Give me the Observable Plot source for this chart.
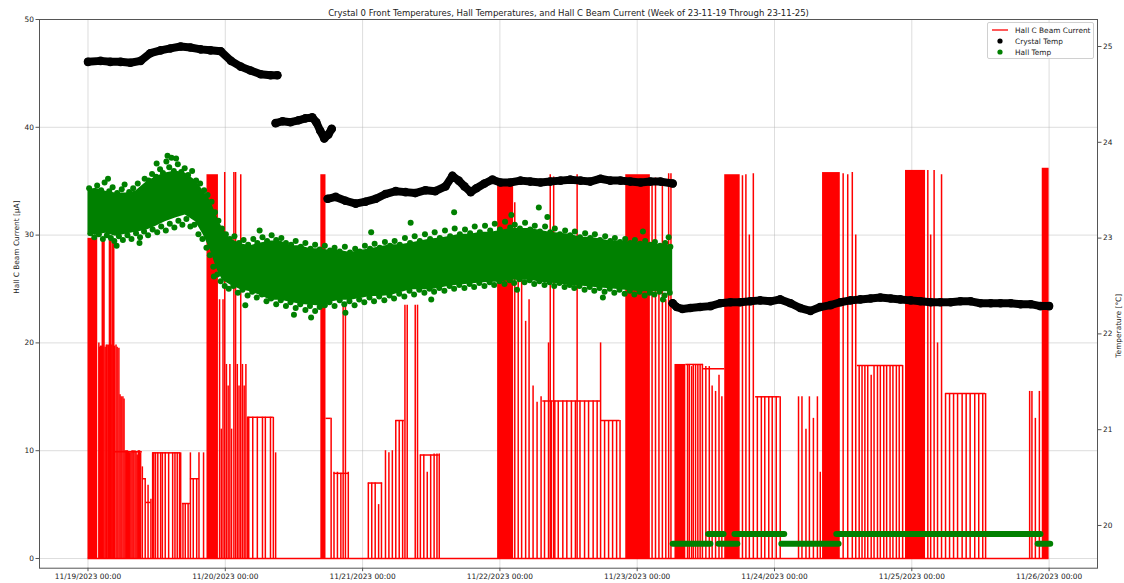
<!DOCTYPE html>
<html><head><meta charset="utf-8">
<script src="https://cdn.jsdelivr.net/npm/d3@7"></script>
<script src="https://cdn.jsdelivr.net/npm/@observablehq/plot@0.6"></script>
<style>
body{margin:0;background:#fff;font-family:"DejaVu Sans",sans-serif;}
#wrap{position:relative;width:1124px;height:583px;}
#legend{position:absolute;left:987px;top:22px;width:107px;height:37px;border:1px solid #d0d0d0;border-radius:2px;background:rgba(255,255,255,0.85);font-size:7.4px;color:#222;box-sizing:border-box;}
#legend .row{position:absolute;left:0;height:10px;display:flex;align-items:center;}
#legend .h{width:24px;display:flex;justify-content:center;align-items:center;}
</style></head><body><div id="wrap"></div>
<script>
const START = Date.UTC(2023, 10, 19);
const title = "Crystal 0 Front Temperatures, Hall Temperatures, and Hall C Beam Current (Week of 23-11-19 Through 23-11-25)";
const dayTicks = [0, 1, 2, 3, 4, 5, 6, 7];
const leftTicks = [0, 10, 20, 30, 40, 50];
const rightTicks = [20, 21, 22, 23, 24, 25];
const leftDomain = [-0.9, 50];
const rightDomain = [19.554, 25.282];

// Hall C beam current (µA), hours after 11/19 00:00
const beamBlocks = [ // [start h, end h, top] dense toggling
  [0.0,1.7,29.7],[20.8,22.8,35.6],[40.7,41.6,35.6],[71.6,74.4,35.1],[94.0,98.3,35.6],
  [102.6,104.5,18.0],[111.3,114.0,35.6],[128.4,131.5,35.8],[142.9,146.4,36.0],[166.8,168.0,36.2]
];
const beamPlateaus = [ // [start h, end h, level]
  [0,168,0],[4.5,9.5,9.9],[9.5,10.2,7.4],[10.2,11.0,5.2],[11.3,16.2,9.8],[16.5,17.9,5.1],[17.9,19.5,7.4],
  [27.9,32.4,13.1],[41.6,42.5,13.0],[43.0,45.7,7.9],[49.0,51.5,7.0],[53.8,55.3,12.8],[58.1,61.4,9.6],
  [79.5,89.6,14.6],[89.6,93.0,12.8],[104.5,107.6,18.0],[107.6,111.3,17.6],[116.7,121.0,15.0],[134.5,142.5,17.9],[149.9,156.9,15.3]
];
const beamSpikes = [ // [h, top]
  [1.9,20],[2.0,19.6],[2.2,19.7],[2.35,19.7],[2.5,29.7],[2.65,29.7],[2.8,29.7],[3.0,19.6],[3.2,19.8],[3.35,19.8],[3.6,19.8],
  [3.75,29.5],[3.9,29.5],[4.05,19.8],[4.2,29.5],[4.35,29.4],[4.5,29.3],[4.65,19.7],[4.9,19.8],[5.1,19.6],[5.4,19.5],
  [5.6,15.2],[5.8,15],[6.1,15],[6.3,14.8],[6.5,10],[6.7,10],[6.9,10],[7.1,9.9],[7.3,9.8],[7.5,9.8],[7.7,10],[7.9,10],
  [8.2,10],[8.4,9.9],[8.6,9.6],[8.8,10],[9.0,10],[9.2,9.8],[9.5,8.5],[10.0,7.4],[10.5,6.8],[11.0,5.5],
  [11.3,9.8],[11.5,9.8],[11.8,9.8],[12.2,9.8],[12.7,9.8],[13.0,9.8],[13.5,9.8],[14.1,9.8],[14.8,9.8],[15.2,9.8],[15.6,9.8],
  [16.0,9.8],[16.2,9.8],[16.6,5.1],[17.0,5.1],[17.5,5.1],[17.9,9.8],[18.4,7.4],[19.0,7.4],[19.4,9.8],[20.2,9.8],
  [23.0,24],[23.3,12],[23.6,24],[23.9,35.8],[24.2,18],[24.5,16],[24.8,18],[25.1,12],[25.5,35.8],[25.8,35.8],[26.1,18],
  [26.4,16],[26.7,35.6],[27.0,18],[27.3,16],[27.6,18],[27.9,13.1],
  [28.1,13.1],[28.8,13.1],[29.6,13.1],[30.5,13.1],[31.0,13.1],[31.9,13.1],[32.4,13.1],[32.8,9.8],
  [42.5,13],[43.0,8],[43.6,8],[44.2,7.9],[44.6,23.5],[45.0,23.4],[45.5,8],
  [49.0,7],[49.6,7],[50.2,7],[50.8,5],[51.3,7],[52.0,10],[52.6,9.8],[53.2,10],[53.8,12.8],[54.4,12.8],[55.0,12.8],
  [55.4,23.5],[55.8,23.5],[57.2,23.5],[57.6,23.5],[58.1,9.6],[58.7,9.6],[59.3,8],[59.9,9.6],[60.5,9.7],[61.0,9.7],[61.4,9.7],
  [74.6,33],[75.2,30],[75.8,29],[76.5,22],[77.1,24],[77.8,16],[78.5,14.5],[79.2,15],[79.8,14.6],[80.5,20],[80.8,35.6],[81.0,14.6],
  [81.4,35.4],[81.6,14.6],[82.2,14.6],[83.0,14.6],[83.7,14.6],[84.5,14.6],[85.2,14.6],[85.5,35.6],[86.0,14.6],[86.8,14.6],[87.5,14.6],[88.3,14.6],
  [89.0,14.6],[89.6,20],[90.3,12.8],[91.0,12.8],[91.7,12.8],[92.4,12.8],[93.0,12.8],
  [98.6,35],[99.2,35.3],[99.8,25],[100.4,35.2],[101.0,24],[101.5,35.7],[101.9,35.7],
  [104.8,18],[105.1,18],[105.5,17.8],[105.8,18],[106.2,18],[106.6,17.9],[107.0,18],[107.4,18],
  [108.0,17.8],[108.6,17.8],[109.1,16],[109.7,15.5],[110.3,17],[110.8,15],
  [114.4,35.5],[115.0,35.6],[115.6,30],[116.3,35.7],[117.0,15],[117.7,15],[118.3,15],[119.0,15],[119.6,15],[120.3,15],[121.0,15],
  [124.2,15],[124.8,15],[125.5,12],[126.1,15],[126.8,13],[127.5,15],[128.0,8],
  [132.0,35.7],[132.8,35.6],[133.6,35.8],[134.2,30],[134.8,17.9],[135.3,17.9],[135.8,17.9],[136.3,17.9],[136.9,17],
  [137.4,17.9],[138.0,17.9],[138.5,17.9],[139.1,17.9],[139.6,17.9],[140.2,17.9],[140.7,17.9],[141.3,17.9],[141.8,17.9],[142.4,17.9],
  [146.8,36],[147.3,30],[147.9,36],[148.5,20],[149.2,35.6],[149.9,15.3],[150.6,15.3],[151.3,15.3],[152.0,15.3],[152.8,15.3],
  [153.5,15.3],[154.2,15.3],[155.0,15.3],[155.7,15.3],[156.4,15.3],[156.9,15.3],
  [164.6,15.5],[165.0,15.5],[165.6,13],[166.3,15.5]
];

// Crystal temperature (°C), four runs
const crystalA = [[0,24.84],[2.2,24.85],[3.9,24.84],[5.7,24.84],[7.4,24.83],[9.2,24.85],[10.9,24.93],[12.7,24.96],[14.4,24.98],[16.2,25.00],[17.9,24.99],[19.7,24.97],[21.4,24.96],[23.2,24.95],[25.0,24.85],[26.7,24.79],[28.4,24.75],[30.2,24.71],[31.9,24.70],[33.1,24.70]];
const crystalB = [[32.8,24.20],[34.0,24.22],[35.4,24.21],[36.8,24.23],[38.0,24.25],[39.2,24.26],[39.9,24.21],[40.6,24.12],[41.3,24.04],[42.0,24.08],[42.6,24.14]];
const crystalC = [[41.9,23.41],[43.3,23.43],[45.0,23.39],[46.8,23.36],[48.5,23.38],[50.3,23.41],[52.0,23.46],[53.8,23.49],[55.5,23.48],[57.2,23.47],[59.0,23.50],[60.7,23.49],[62.5,23.54],[63.7,23.65],[64.8,23.60],[65.8,23.54],[66.9,23.48],[67.9,23.52],[69.3,23.57],[70.7,23.61],[72.1,23.58],[73.8,23.58],[75.6,23.60],[77.3,23.59],[79.1,23.58],[80.8,23.59],[82.6,23.60],[84.3,23.61],[86.1,23.60],[87.8,23.59],[89.6,23.62],[91.3,23.60],[93.1,23.60],[94.8,23.59],[96.6,23.58],[98.3,23.59],[100.1,23.59],[102.2,23.57]];
const crystalD = [[102.2,22.32],[102.9,22.28],[103.9,22.26],[105.3,22.27],[107.0,22.28],[108.8,22.29],[110.5,22.32],[112.3,22.33],[114.0,22.33],[115.8,22.34],[117.5,22.35],[119.3,22.34],[121.0,22.36],[122.8,22.32],[124.5,22.27],[126.3,22.24],[128.0,22.28],[129.8,22.30],[131.5,22.33],[133.3,22.35],[135.0,22.36],[136.8,22.37],[138.5,22.38],[140.3,22.37],[142.0,22.36],[143.8,22.35],[145.5,22.34],[147.3,22.33],[149.0,22.33],[150.8,22.33],[152.5,22.34],[154.3,22.34],[156.0,22.32],[157.8,22.32],[159.5,22.32],[161.3,22.32],[163.0,22.31],[164.8,22.31],[166.5,22.29],[168.0,22.29]];

// Hall temperature (°C): dense core [h, high, low], scattered readings [h, T], quantized runs [start h, end h, T]
const hallCore = [[0,23.49,23.06],[1.3,23.52,23.03],[3.1,23.49,23.05],[4.8,23.47,23.02],[6.6,23.47,23.04],[8.3,23.49,23.06],[10.1,23.58,23.08],[11.8,23.64,23.12],[13.5,23.68,23.17],[15.3,23.70,23.21],[17.0,23.68,23.24],[18.8,23.60,23.17],[20.2,23.49,23.03],[21.4,23.39,22.87],[22.5,23.23,22.68],[23.5,23.10,22.56],[24.9,22.99,22.51],[26.7,22.94,22.46],[28.4,22.92,22.44],[30.2,22.95,22.40],[31.9,22.97,22.35],[33.7,22.97,22.35],[35.4,22.92,22.33],[37.1,22.92,22.31],[38.9,22.89,22.30],[40.6,22.89,22.29],[42.4,22.87,22.33],[44.1,22.87,22.35],[45.9,22.85,22.35],[47.6,22.87,22.37],[49.4,22.89,22.39],[51.1,22.91,22.39],[52.9,22.93,22.40],[54.6,22.93,22.43],[56.4,22.95,22.46],[58.1,22.97,22.46],[59.9,22.99,22.46],[61.6,23.00,22.48],[63.4,23.02,22.50],[65.1,23.04,22.51],[66.9,23.04,22.52],[68.6,23.06,22.53],[70.4,23.06,22.54],[72.1,23.08,22.54],[73.9,23.10,22.56],[75.6,23.10,22.56],[77.4,23.10,22.56],[79.1,23.08,22.54],[80.8,23.06,22.53],[82.6,23.05,22.52],[84.3,23.04,22.50],[86.1,23.01,22.50],[87.8,23.01,22.49],[89.6,22.99,22.48],[91.3,22.97,22.47],[93.1,22.97,22.46],[94.8,22.96,22.45],[96.6,22.95,22.44],[98.3,22.94,22.44],[100.1,22.93,22.44],[102.2,22.92,22.44]];
const hallUpper = [[0.2,23.52],[0.9,23.49],[1.6,23.55],[2.3,23.50],[2.9,23.58],[3.7,23.49],[4.3,23.53],[5.1,23.47],[5.9,23.51],[6.4,23.56],[7.2,23.48],[7.9,23.52],[8.7,23.57],[9.3,23.50],[9.9,23.62],[10.6,23.60],[11.2,23.67],[11.9,23.64],[12.6,23.72],[13.1,23.68],[13.7,23.80],[14.2,23.74],[14.6,23.84],[15.0,23.70],[15.7,23.77],[16.3,23.69],[16.9,23.73],[17.5,23.66],[18.2,23.70],[18.9,23.60],[19.6,23.57],[20.3,23.50],[20.9,23.45],[21.6,23.38],[22.2,23.27],[22.8,23.18],[23.4,23.10],[24.1,23.04],[24.8,22.99],[25.6,23.02],[26.4,22.95],[27.2,22.98],[28.0,22.93],[28.9,22.99],[29.6,22.95],[30.5,23.01],[31.3,22.97],[32.1,23.03],[32.9,22.98],[33.8,23.00],[34.6,22.95],[35.5,22.93],[36.3,22.97],[37.2,22.91],[38.0,22.95],[38.9,22.89],[39.7,22.93],[40.5,22.88],[41.4,22.92],[42.3,22.87],[43.1,22.90],[44.0,22.86],[44.9,22.91],[45.8,22.85],[46.7,22.89],[47.5,22.86],[48.4,22.92],[49.3,22.89],[50.1,22.94],[51.0,22.90],[51.9,22.96],[52.8,22.92],[53.6,22.97],[54.5,22.93],[55.4,23.00],[56.3,22.95],[57.1,23.02],[58.0,22.97],[58.9,23.04],[59.8,22.99],[60.6,23.06],[61.5,23.00],[62.4,23.08],[63.3,23.02],[64.1,23.10],[65.0,23.04],[65.9,23.09],[66.8,23.05],[67.6,23.12],[68.5,23.06],[69.4,23.13],[70.3,23.08],[71.1,23.15],[72.0,23.09],[72.9,23.17],[73.8,23.11],[74.6,23.14],[75.5,23.10],[76.4,23.16],[77.3,23.09],[78.1,23.13],[79.0,23.07],[79.9,23.12],[80.8,23.06],[81.6,23.10],[82.5,23.04],[83.4,23.08],[84.3,23.03],[85.1,23.07],[86.0,23.01],[86.9,23.05],[87.8,23.00],[88.6,23.04],[89.5,22.98],[90.4,23.02],[91.3,22.97],[92.1,23.00],[93.0,22.96],[93.9,22.99],[94.8,22.95],[95.6,22.98],[96.5,22.94],[97.4,22.97],[98.3,22.93],[99.1,22.96],[100.0,22.92],[100.9,22.95],[101.8,22.91],
  [13.9,23.86],[15.4,23.83],[12.0,23.78],[3.5,23.62],[56.4,23.16],[64.0,23.27],[78.8,23.32],[80.3,23.22],[74.0,23.24],[49.5,23.06],[30.0,23.08],[97.0,23.07],[101.5,23.01]];
const hallLower = [[0.4,23.05],[1.1,23.01],[1.9,23.04],[2.6,22.99],[3.3,23.03],[4.0,23.00],[4.6,22.97],[5.4,23.02],[6.1,22.98],[6.9,23.03],[7.6,22.99],[8.4,23.05],[9.1,23.01],[9.8,23.07],[10.5,23.03],[11.3,23.09],[12.1,23.06],[12.8,23.12],[13.6,23.08],[14.3,23.15],[15.1,23.11],[15.8,23.18],[16.5,23.14],[17.2,23.20],[17.9,23.12],[18.6,23.14],[19.3,23.04],[20.0,22.99],[20.7,22.90],[21.3,22.82],[21.9,22.70],[22.6,22.62],[23.2,22.55],[23.9,22.50],[24.6,22.47],[25.4,22.50],[26.2,22.43],[27.0,22.46],[27.9,22.40],[28.7,22.44],[29.5,22.38],[30.4,22.41],[31.2,22.34],[32.0,22.37],[32.9,22.31],[33.7,22.35],[34.6,22.29],[35.4,22.33],[36.3,22.27],[37.1,22.31],[38.0,22.25],[38.8,22.29],[39.7,22.24],[40.5,22.28],[41.4,22.30],[42.2,22.33],[43.1,22.29],[44.0,22.35],[44.8,22.31],[45.7,22.34],[46.6,22.30],[47.4,22.36],[48.3,22.33],[49.2,22.38],[50.0,22.34],[50.9,22.39],[51.8,22.35],[52.7,22.40],[53.5,22.37],[54.4,22.42],[55.3,22.39],[56.2,22.45],[57.0,22.41],[57.9,22.46],[58.8,22.43],[59.7,22.47],[60.5,22.44],[61.4,22.48],[62.3,22.45],[63.2,22.50],[64.0,22.47],[64.9,22.51],[65.8,22.48],[66.7,22.52],[67.5,22.49],[68.4,22.53],[69.3,22.50],[70.2,22.54],[71.0,22.51],[71.9,22.55],[72.8,22.52],[73.7,22.56],[74.5,22.53],[75.4,22.57],[76.3,22.54],[77.2,22.56],[78.0,22.52],[78.9,22.55],[79.8,22.51],[80.7,22.54],[81.5,22.50],[82.4,22.53],[83.3,22.49],[84.2,22.51],[85.0,22.48],[85.9,22.50],[86.8,22.46],[87.7,22.49],[88.5,22.45],[89.4,22.48],[90.3,22.44],[91.2,22.47],[92.0,22.43],[92.9,22.46],[93.8,22.42],[94.7,22.45],[95.5,22.41],[96.4,22.44],[97.3,22.40],[98.2,22.43],[99.0,22.41],[99.9,22.44],[100.8,22.40],[101.7,22.43],
  [27.5,22.30],[39.0,22.17],[36.0,22.20],[45.0,22.22],[60.0,22.36],[75.0,22.46],[90.0,22.38],[100.5,22.36],[22.0,22.60],[5.0,22.92],[9.0,22.95]];
const hallSteps = [[102.2,108.8,19.81],[108.4,111.1,19.91],[110.2,113.5,19.81],[113.0,121.7,19.91],[121.2,131.2,19.81],[130.8,166.5,19.91],[166.0,168.2,19.81]];

const t = h => new Date(START + h * 3600e3);
const conv = d3.scaleLinear(rightDomain, leftDomain); // temperature -> left-axis units
const RED = "#ff0000", GREEN = "#008000";

const chart = Plot.plot({
  width: 1124, height: 583,
  marginLeft: 39, marginRight: 27, marginTop: 19, marginBottom: 15.3,
  style: {fontFamily: "DejaVu Sans, sans-serif", fontSize: "7.4px", color: "#222", background: "#fff"},
  x: {type: "utc", domain: [t(-0.3532 * 24), t(7.3525 * 24)], axis: null},
  y: {domain: leftDomain, axis: null},
  marks: [
    Plot.gridX(dayTicks.map(d => t(d * 24)), {stroke: "#b0b0b0", strokeOpacity: 0.55, strokeWidth: 0.8}),
    Plot.gridY(leftTicks, {stroke: "#b0b0b0", strokeOpacity: 0.55, strokeWidth: 0.8}),
    Plot.rect(beamBlocks, {x1: d => t(d[0]), x2: d => t(d[1]), y1: 0, y2: d => d[2], fill: RED}),
    Plot.ruleY(beamPlateaus, {y: d => d[2], x1: d => t(d[0]), x2: d => t(d[1]), stroke: RED, strokeWidth: 1.5}),
    Plot.ruleX(beamSpikes, {x: d => t(d[0]), y1: 0, y2: d => d[1], stroke: RED, strokeWidth: 1.5}),
    ...[crystalA, crystalB, crystalC, crystalD].map(s =>
      Plot.line(s, {x: d => t(d[0]), y: d => conv(d[1]), stroke: "black", strokeWidth: 8, strokeLinecap: "round", strokeLinejoin: "round"})),
    ...[crystalA, crystalB, crystalC, crystalD].map(s =>
      Plot.dot(s, {x: d => t(d[0]), y: d => conv(d[1]), r: 4.3, fill: "black"})),
    Plot.areaY(hallCore, {x: d => t(d[0]), y1: d => conv(d[2]), y2: d => conv(d[1]), fill: GREEN}),
    Plot.dot(hallUpper, {x: d => t(d[0]), y: d => conv(d[1]), r: 3, fill: GREEN}),
    Plot.dot(hallLower, {x: d => t(d[0]), y: d => conv(d[1]), r: 3, fill: GREEN}),
    Plot.link(hallSteps, {x1: d => t(d[0]), x2: d => t(d[1]), y1: d => conv(d[2]), y2: d => conv(d[2]), stroke: GREEN, strokeWidth: 6, strokeLinecap: "round"}),
    Plot.frame({stroke: "#555", strokeWidth: 1}),
    Plot.axisX(dayTicks.map(d => t(d * 24)), {anchor: "bottom", tickSize: 3.5, tickPadding: 2, tickFormat: d3.utcFormat("%m/%d/%Y %H:%M"), label: null, stroke: "#555"}),
    Plot.axisY(leftTicks, {anchor: "left", tickSize: 3.5, tickPadding: 2, label: null, stroke: "#555"}),
    Plot.axisY(rightTicks.map(conv), {anchor: "right", tickSize: 3.5, tickPadding: 2, label: null, stroke: "#555", tickFormat: d => String(Math.round(conv.invert(d)))}),
    Plot.text([title], {frameAnchor: "top", dy: -10, fontSize: 8.5, fill: "#222"}),
    Plot.text(["Hall C Beam Current [μA]"], {frameAnchor: "left", dx: -23, rotate: -90, fill: "#222"}),
    Plot.text(["Temperature [°C]"], {frameAnchor: "right", dx: 21, rotate: -90, fill: "#222"})
  ]
});
const wrap = document.getElementById("wrap");
wrap.appendChild(chart);

const legendItems = [
  {label: "Hall C Beam Current", kind: "line", color: RED},
  {label: "Crystal Temp", kind: "dot", color: "black"},
  {label: "Hall Temp", kind: "dot", color: GREEN}
];
const lg = document.createElement("div");
lg.id = "legend";
legendItems.forEach((it, i) => {
  const row = document.createElement("div");
  row.className = "row";
  row.style.top = (2 + i * 11) + "px";
  const h = document.createElement("span");
  h.className = "h";
  h.innerHTML = it.kind === "line"
    ? `<svg width="18" height="6"><line x1="1" x2="17" y1="3" y2="3" stroke="${it.color}" stroke-width="1.3"/></svg>`
    : `<svg width="8" height="8"><circle cx="4" cy="4" r="2.6" fill="${it.color}"/></svg>`;
  const s = document.createElement("span");
  s.textContent = it.label;
  s.style.marginLeft = "3px";
  row.appendChild(h); row.appendChild(s);
  lg.appendChild(row);
});
wrap.appendChild(lg);
</script>
</body></html>
